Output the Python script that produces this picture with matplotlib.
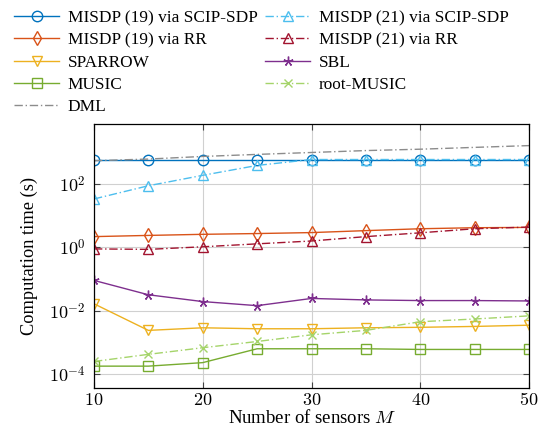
import matplotlib
matplotlib.use("Agg")
import matplotlib.pyplot as plt
import numpy as np

plt.rcParams['font.family'] = ['Liberation Serif', 'DejaVu Serif']
plt.rcParams['mathtext.fontset'] = 'cm'

M = [10, 15, 20, 25, 30, 35, 40, 45, 50]

scip19 = [600, 600, 600, 600, 600, 600, 600, 600, 600]
scip21 = [34, 89, 190, 390, 600, 600, 600, 600, 600]
rr19 = [2.2, 2.4, 2.6, 2.75, 2.95, 3.4, 3.9, 4.2, 4.3]
rr21 = [0.9, 0.87, 1.05, 1.3, 1.6, 2.2, 2.9, 3.9, 4.4]
sparrow = [0.0166, 0.0024, 0.0029, 0.0027, 0.0027, 0.0029, 0.003, 0.0032, 0.0035]
sbl = [0.091, 0.032, 0.0195, 0.0145, 0.0245, 0.022, 0.021, 0.021, 0.0204]
music = [0.000178, 0.000178, 0.00023, 0.00063, 0.00063, 0.00063, 0.0006, 0.0006, 0.0006]
rootmusic = [0.00025, 0.00042, 0.00068, 0.00107, 0.00174, 0.0024, 0.0045, 0.0055, 0.0069]
dml = [550, 620, 750, 870, 1000, 1150, 1270, 1450, 1650]

fig = plt.figure(figsize=(5.46, 4.26), dpi=100)
ax = fig.add_axes([94/546, 1-388/426, (529-94)/546, (388-124)/426])

dashdot = (0, (6, 2, 1, 2))
ms = 7.5
lw = 1.0
mew = 1.0
h = {}
h['scip19'], = ax.plot(M, scip19, color='#0072BD', marker='o', mfc='none', ms=ms, mew=mew, lw=lw, ls='-', label='MISDP (19) via SCIP-SDP')
h['rr19'], = ax.plot(M, rr19, color='#D95319', marker='d', mfc='none', ms=ms, mew=mew, lw=lw, ls='-', label='MISDP (19) via RR')
h['sparrow'], = ax.plot(M, sparrow, color='#EDB120', marker='v', mfc='none', ms=ms, mew=mew, lw=lw, ls='-', label='SPARROW')
h['music'], = ax.plot(M, music, color='#77AC30', marker='s', mfc='none', ms=ms, mew=mew, lw=lw, ls='-', label='MUSIC')
h['dml'], = ax.plot(M, dml, color='#8c8c8c', lw=lw, ls=dashdot, label='DML')
h['scip21'], = ax.plot(M, scip21, color='#4DBEEE', marker='^', mfc='none', ms=ms, mew=mew, lw=lw, ls=dashdot, label='MISDP (21) via SCIP-SDP')
h['rr21'], = ax.plot(M, rr21, color='#A2142F', marker='^', mfc='none', ms=ms, mew=mew, lw=lw, ls=dashdot, label='MISDP (21) via RR')
h['sbl'], = ax.plot(M, sbl, color='#7E2F8E', marker=(5, 2, 0), ms=7, mew=mew, lw=lw, ls='-', label='SBL')
h['rootmusic'], = ax.plot(M, rootmusic, color='#A5D46A', marker='x', ms=6, mew=mew, lw=lw, ls=dashdot, label='root-MUSIC')

ax.set_yscale('log')
ax.set_xlim(10, 50)
ax.set_ylim(10**-4.44, 10**3.9)
ax.set_xticks([10, 20, 30, 40, 50])
ax.set_xticklabels([r'$%d$' % v for v in [10, 20, 30, 40, 50]])
ax.set_yticks([1e-4, 1e-2, 1e0, 1e2])
ax.set_yticklabels([r'$10^{-4}$', r'$10^{-2}$', r'$10^{0}$', r'$10^{2}$'])
ax.yaxis.set_minor_locator(matplotlib.ticker.NullLocator())
ax.tick_params(direction='in', which='both', top=True, right=True, length=4, color='#444444', labelsize=13)
ax.tick_params(axis='x', pad=3)
ax.tick_params(axis='y', pad=6)
ax.grid(True, color='#d0d0d0', lw=0.8)
ax.set_axisbelow(True)
for s in ax.spines.values():
    s.set_linewidth(0.9)
ax.set_xlabel(r'Number of sensors $M$', fontsize=13.5, labelpad=0)
ax.set_ylabel('Computation time (s)', fontsize=13.2, labelpad=8)

order = ['scip19', 'rr19', 'sparrow', 'music', 'dml', 'scip21', 'rr21', 'sbl', 'rootmusic']
fig.legend([h[k] for k in order], [h[k].get_label() for k in order], ncol=2, frameon=False,
           loc='upper left', bbox_to_anchor=(0.007, 1.0), fontsize=12.4, handlelength=2.6,
           handletextpad=0.5, columnspacing=0.45, labelspacing=0.35, borderaxespad=0.2)

fig.savefig('out.png', dpi=100)
